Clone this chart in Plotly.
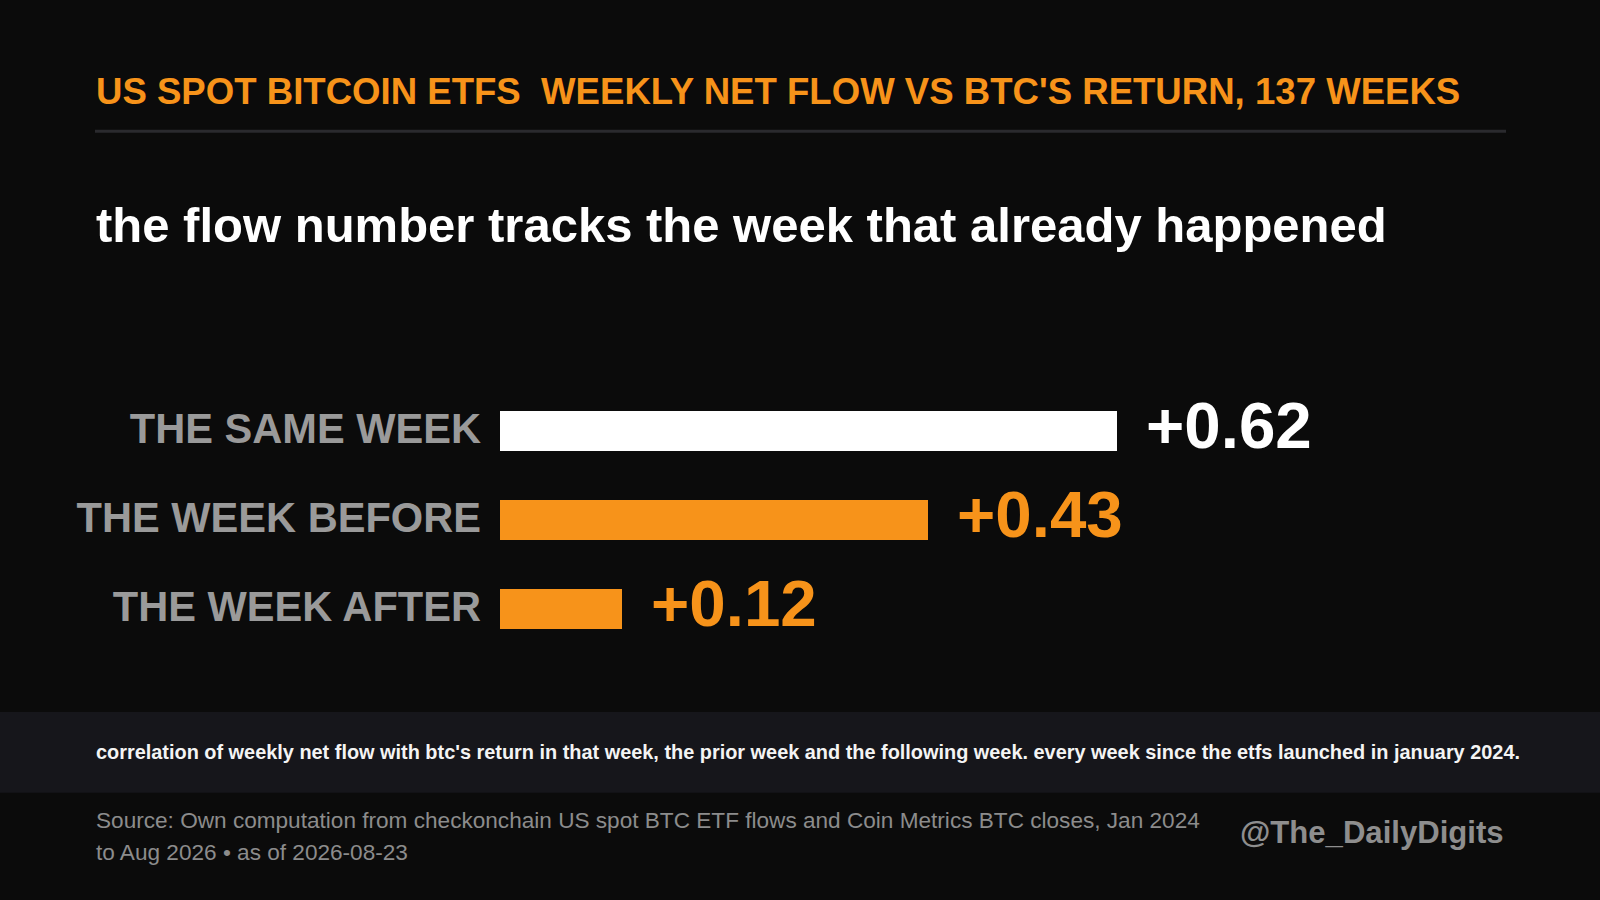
import plotly.graph_objects as go

# ---- data ----
labels = ["THE SAME WEEK", "THE WEEK BEFORE", "THE WEEK AFTER"]
corr = [0.62, 0.43, 0.123]
value_text = ["+0.62", "+0.43", "+0.12"]

title_txt = "US SPOT BITCOIN ETFS  WEEKLY NET FLOW VS BTC'S RETURN, 137 WEEKS"
subtitle_txt = "the flow number tracks the week that already happened"
note_txt = ("correlation of weekly net flow with btc's return in that week, the prior week "
            "and the following week. every week since the etfs launched in january 2024.")
source_1 = "Source: Own computation from checkonchain US spot BTC ETF flows and Coin Metrics BTC closes, Jan 2024"
source_2 = "to Aug 2026 • as of 2026-08-23"
handle = "@The_DailyDigits"

ORANGE = "#F7931A"
BG = "#0b0b0b"
FONT = "Liberation Sans, Arial, sans-serif"
bar_colors = ["#ffffff", ORANGE, ORANGE]

W, H = 1600, 900

fig = go.Figure()
fig.add_trace(go.Bar(
    y=labels, x=corr, orientation="h",
    marker=dict(color=bar_colors, line=dict(width=0)),
    width=0.45, hoverinfo="skip", showlegend=False,
))

# value labels next to bar ends
for lab, v, t, c in zip(labels, corr, value_text, bar_colors):
    fig.add_annotation(
        x=v, y=lab, xref="x", yref="y", text=t, showarrow=False,
        xanchor="left", yanchor="middle", xshift=27, yshift=6,
        font=dict(family=FONT, size=65.5, color=c, weight="bold"),
    )

def txt(s, x, y, size, color, bold=False, anchor="left"):
    fig.add_annotation(
        x=x / W, y=1 - y / H, xref="paper", yref="paper", text=s,
        showarrow=False, xanchor=anchor, yanchor="middle",
        font=dict(family=FONT, size=size, color=color,
                  weight="bold" if bold else "normal"),
    )

txt(title_txt, 94, 91, 36.6, ORANGE, bold=True)
txt(subtitle_txt, 94, 225, 49, "#ffffff", bold=True)
txt(note_txt, 94, 751.5, 19.9, "#f4f4f4", bold=True)
txt(source_1, 94, 820, 22.6, "#8c8c8c")
txt(source_2, 94, 852, 22.6, "#8c8c8c")
txt(handle, 1506, 832.5, 31.1, "#8e8e8e", bold=True, anchor="right")

# separator under title and footer band
fig.add_shape(type="line", xref="paper", yref="paper",
              x0=95 / W, x1=1506 / W, y0=1 - 131.3 / H, y1=1 - 131.3 / H,
              line=dict(color="#2a2a2e", width=3))
fig.add_shape(type="rect", xref="paper", yref="paper", layer="below",
              x0=0, x1=1, y0=1 - 792.7 / H, y1=1 - 712 / H,
              fillcolor="#16161b", line=dict(width=0))

fig.update_layout(
    width=W, height=H,
    margin=dict(l=0, r=0, t=0, b=0),
    paper_bgcolor=BG, plot_bgcolor="rgba(0,0,0,0)",
    xaxis=dict(domain=[500 / W, 1495 / W], range=[0, 1.0],
               visible=False, fixedrange=True),
    yaxis=dict(domain=[1 - 653.7 / H, 1 - 387.4 / H],
               type="category", categoryorder="array", categoryarray=labels,
               range=[2.5, -0.5], showgrid=False, zeroline=False,
               showline=False, ticks="", ticklabelstandoff=18,
               ticklabelshift=3,
               tickfont=dict(family=FONT, size=41.6, color="#9a9a9a", weight="bold"),
               fixedrange=True),
    bargap=0,
)

fig.write_html(
    "out.html",
    config={"displayModeBar": False},
    post_script="document.body.style.margin='0';document.body.style.background='#0b0b0b';",
)
